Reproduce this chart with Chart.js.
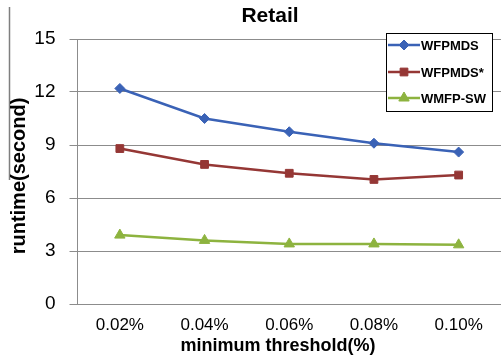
<!DOCTYPE html>
<html>
<head>
<meta charset="utf-8">
<script src="https://cdn.jsdelivr.net/npm/chart.js@4/dist/chart.umd.min.js"></script>
<style>
  html, body { margin: 0; padding: 0; background: #fff; }
  #wrap { width: 501px; height: 359px; position: relative; }
</style>
</head>
<body>
<div id="wrap"><canvas id="c" width="501" height="359"></canvas></div>
<script>
// Runtime (seconds) on the Retail dataset for each minimum threshold
const thresholds = ['0.02%', '0.04%', '0.06%', '0.08%', '0.10%'];
const wfpmds     = [12.2, 10.5, 9.75, 9.1, 8.6];
const wfpmdsStar = [8.8, 7.9, 7.4, 7.05, 7.3];
const wmfpSw     = [3.9, 3.6, 3.4, 3.4, 3.35];
const yTicks     = [0, 3, 6, 9, 12, 15];

const seriesNames = ['WFPMDS', 'WFPMDS*', 'WMFP-SW'];
const seriesColors = ['#3A62B6', '#953735', '#8DB33F'];
const seriesShapes = ['rectRot', 'rect', 'triangle'];
const seriesRadius = [5, 5.5, 6];

const FONT = '"Liberation Sans", Arial, sans-serif';

// Title, axis titles, boxed legend and left frame edge
const decorations = {
  id: 'decorations',
  afterDraw(chart) {
    const ctx = chart.ctx;
    ctx.save();

    // frame edge on the left
    ctx.strokeStyle = '#7f7f7f';
    ctx.lineWidth = 1.5;
    ctx.beginPath();
    ctx.moveTo(9.5, 7);
    ctx.lineTo(9.5, 180);
    ctx.stroke();

    ctx.fillStyle = '#000';
    ctx.textAlign = 'center';
    ctx.textBaseline = 'middle';

    ctx.font = 'bold 21px ' + FONT;
    ctx.fillText('Retail', 270, 16);

    ctx.font = 'bold 18px ' + FONT;
    ctx.fillText('minimum threshold(%)', 278, 346);

    ctx.save();
    ctx.translate(19, 176);
    ctx.rotate(-Math.PI / 2);
    ctx.font = 'bold 20px ' + FONT;
    ctx.fillText('runtime(second)', 0, 0);
    ctx.restore();

    // legend box
    const bx = 386.5, by = 33.5, bw = 106, bh = 78;
    ctx.fillStyle = '#fff';
    ctx.fillRect(bx, by, bw, bh);
    ctx.strokeStyle = '#000';
    ctx.lineWidth = 1;
    ctx.strokeRect(bx, by, bw, bh);

    ctx.textAlign = 'left';
    ctx.font = 'bold 13px ' + FONT;
    const rowsY = [45, 72, 98];
    chart.data.datasets.forEach((ds, i) => {
      const y = rowsY[i];
      ctx.strokeStyle = ds.borderColor;
      ctx.lineWidth = 2.5;
      ctx.beginPath();
      ctx.moveTo(388, y);
      ctx.lineTo(420, y);
      ctx.stroke();
      ctx.fillStyle = ds.borderColor;
      ctx.lineWidth = 1;
      Chart.helpers.drawPoint(ctx, {
        pointStyle: ds.pointStyle,
        radius: ds.pointRadius,
        borderWidth: 1
      }, 404, y);
      ctx.fillStyle = '#000';
      ctx.fillText(ds.label, 421, y + 1);
    });

    ctx.restore();
  }
};

const datasets = [wfpmds, wfpmdsStar, wmfpSw].map((vals, i) => ({
  label: seriesNames[i],
  data: vals,
  borderColor: seriesColors[i],
  backgroundColor: seriesColors[i],
  pointBackgroundColor: seriesColors[i],
  pointBorderColor: seriesColors[i],
  pointStyle: seriesShapes[i],
  pointRadius: seriesRadius[i],
  pointBorderWidth: 1,
  borderWidth: 2.5,
  tension: 0,
  fill: false
}));

new Chart(document.getElementById('c'), {
  type: 'line',
  data: { labels: thresholds, datasets },
  options: {
    responsive: false,
    animation: false,
    layout: { autoPadding: false, padding: { top: 39, right: 0, bottom: 0, left: 0 } },
    plugins: {
      legend: { display: false },
      title: { display: false },
      tooltip: { enabled: false }
    },
    scales: {
      x: {
        offset: true,
        grid: { display: false },
        border: { display: false },
        ticks: {
          color: '#000',
          font: { family: FONT, size: 17 },
          padding: 3,
          maxRotation: 0
        },
        afterFit(scale) {
          scale.height = 55;
          scale.paddingLeft = 0;
          scale.paddingRight = 0;
        }
      },
      y: {
        min: 0,
        max: 15,
        afterBuildTicks(scale) { scale.ticks = yTicks.map(v => ({ value: v })); },
        grid: { color: '#8c8c8c', lineWidth: 1, tickLength: 8 },
        border: { display: true, color: '#8c8c8c', width: 1 },
        ticks: {
          color: '#000',
          font: { family: FONT, size: 19 },
          padding: 14
        },
        afterFit(scale) {
          scale.width = 77.5;
          scale.paddingTop = 0;
          scale.paddingBottom = 0;
        }
      }
    }
  },
  plugins: [decorations]
});
</script>
</body>
</html>
